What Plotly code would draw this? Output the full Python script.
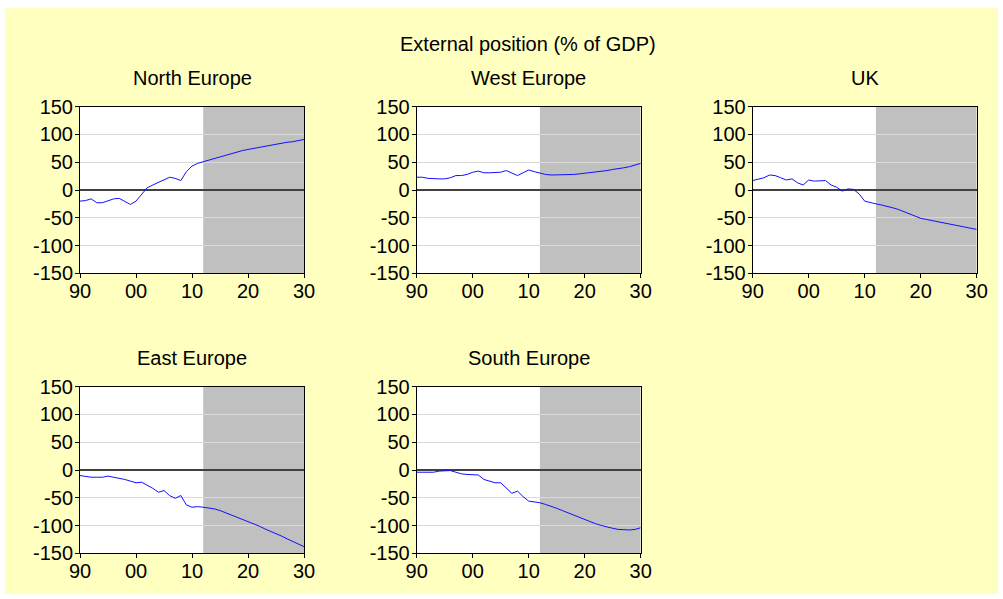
import plotly.graph_objects as go

# Annual observations 1990-2011 followed by the projection to 2030
years = list(range(1990, 2031))
forecast_start = 2012

north_europe = [-20, -19, -16, -23, -23, -19, -16, -15, -20, -26,
                -20, -7, 4, 9, 14, 19, 23, 21, 17, 33,
                43, 48, 51, 53, 56, 59, 62, 65, 68, 71,
                73, 75, 77, 79, 81, 82, 84, 86, 87, 89, 91]
west_europe = [23, 23, 21, 20, 20, 20, 22, 26, 26, 28,
               32, 34, 31, 31, 32, 32, 35, 31, 26, 31,
               36, 33, 30, 28, 27, 27, 27, 28, 28, 29,
               30, 31, 32, 33, 35, 37, 38, 40, 42, 45, 48]
uk = [17, 20, 22, 27, 26, 22, 18, 20, 13, 9,
      18, 16, 17, 17, 9, 5, -2, 2, 1, -7,
      -20, -23, -25, -27, -29, -32, -35, -39, -43, -47,
      -51, -53, -55, -58, -60, -62, -64, -66, -68, -70, -71]
east_europe = [-10, -12, -13, -13, -13, -11, -13, -14, -17, -20,
               -23, -22, -27, -33, -40, -37, -46, -51, -46, -63,
               -67, -66, -67, -68, -70, -73, -77, -81, -84, -88,
               -92, -97, -101, -106, -110, -115, -119, -124, -129, -133, -138]
south_europe = [-4, -4, -4, -4, -2, -1, -1, -4, -7, -8,
                -8, -9, -17, -20, -23, -23, -33, -42, -38, -48,
                -56, -57, -59, -62, -65, -69, -73, -77, -81, -86,
                -90, -94, -97, -100, -103, -105, -107, -108, -108, -107, -104]

panel_titles = ["North Europe", "West Europe", "UK", "East Europe", "South Europe"]
panel_series = [north_europe, west_europe, uk, east_europe, south_europe]

x_ticks = [1990, 2000, 2010, 2020, 2030]
x_tick_text = ["90", "00", "10", "20", "30"]
y_ticks = [150, 100, 50, 0, -50, -100, -150]
y_tick_text = ["150", "100", "50", "0", "-50", "-100", "-150"]

W, H = 1003, 599
FONT = "Liberation Sans, Arial, sans-serif"
FS = 20

# panel frames in pixels: (left, right, top, bottom)
col_x = [(80, 304), (416.7, 640.7), (752.7, 976.7)]
row_y = [(106.7, 273.3), (386.7, 553.3)]
title_y = [78, 358]
positions = [(0, 0), (0, 1), (0, 2), (1, 0), (1, 1)]

fig = go.Figure()
layout = dict(
    width=W, height=H,
    margin=dict(l=0, r=0, t=0, b=0, autoexpand=False),
    paper_bgcolor="#FFFFC0",
    plot_bgcolor="white",
    showlegend=False,
    font=dict(family=FONT, size=FS, color="black"),
)
shapes = []
annotations = []

for i, (title, vals) in enumerate(zip(panel_titles, panel_series)):
    r, c = positions[i]
    n = "" if i == 0 else str(i + 1)
    xa, ya = "x" + n, "y" + n
    x0, x1 = col_x[c]
    y0, y1 = row_y[r]
    fig.add_trace(go.Scatter(
        x=years, y=vals, mode="lines",
        line=dict(color="#1010FF", width=1),
        xaxis=xa, yaxis=ya, hoverinfo="skip",
    ))
    layout["xaxis" + n] = dict(
        domain=[x0 / W, x1 / W], anchor=ya,
        range=[1990, 2030], tickvals=x_ticks, ticktext=x_tick_text,
        ticks="outside", ticklen=4, tickcolor="black",
        showline=True, linecolor="black", linewidth=1, mirror=True,
        showgrid=False, zeroline=False, automargin=False,
        ticklabelstandoff=-4,
        tickfont=dict(family=FONT, size=FS, color="black"),
    )
    layout["yaxis" + n] = dict(
        domain=[1 - y1 / H, 1 - y0 / H], anchor=xa,
        range=[-150, 150], tickvals=y_ticks, ticktext=y_tick_text,
        ticks="outside", ticklen=4, tickcolor="black",
        showline=True, linecolor="black", linewidth=1, mirror=True,
        showgrid=True, gridcolor="#DADADA", gridwidth=1,
        zeroline=True, zerolinecolor="#404040", zerolinewidth=1.5,
        automargin=False, ticklabelstandoff=-2,
        tickfont=dict(family=FONT, size=FS, color="black"),
    )
    # projection period shading
    shapes.append(dict(
        type="rect", xref=xa, yref=ya + " domain",
        x0=forecast_start, x1=2030, y0=0, y1=1,
        fillcolor="#C0C0C0", line=dict(width=0), layer="below",
    ))
    annotations.append(dict(
        text=title, xref="paper", yref="paper",
        x=(x0 + x1) / 2 / W, y=1 - title_y[r] / H,
        xanchor="center", yanchor="middle", showarrow=False,
        font=dict(family=FONT, size=FS, color="black"),
    ))

annotations.append(dict(
    text="External position (% of GDP)", xref="paper", yref="paper",
    x=528 / W, y=1 - 44 / H, xanchor="center", yanchor="middle",
    showarrow=False, font=dict(family=FONT, size=FS, color="black"),
))

# thin white page edge around the yellow sheet
edge = dict(type="rect", xref="paper", yref="paper",
            fillcolor="white", line=dict(width=0), layer="above")
shapes += [
    dict(edge, x0=0, x1=5 / W, y0=0, y1=1),
    dict(edge, x0=998 / W, x1=1, y0=0, y1=1),
    dict(edge, x0=0, x1=1, y0=1 - 8 / H, y1=1),
    dict(edge, x0=0, x1=1, y0=0, y1=1 - 594 / H),
]

layout["shapes"] = shapes
layout["annotations"] = annotations
fig.update_layout(**layout)
fig.write_html("out.html")
